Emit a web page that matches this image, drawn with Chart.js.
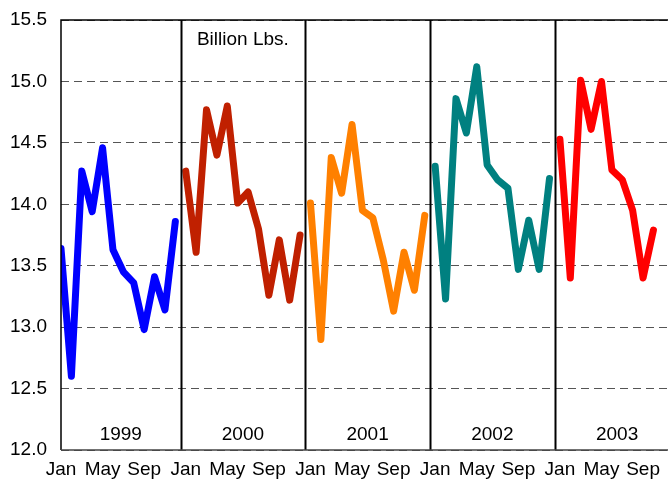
<!DOCTYPE html>
<html>
<head>
<meta charset="utf-8">
<script src="https://cdn.jsdelivr.net/npm/chart.js@4"></script>
<style>
  body { margin: 0; background: #fff; }
  #wrap { width: 668px; height: 481px; }
</style>
</head>
<body>
<div id="wrap"><canvas id="myChart"></canvas></div>
<script>
const years = ['1999', '2000', '2001', '2002', '2003'];
const months = ['Jan', 'Feb', 'Mar', 'Apr', 'May', 'Jun', 'Jul', 'Aug', 'Sep', 'Oct', 'Nov', 'Dec'];
const tickMonths = [0, 4, 8];
const yTicks = [12.0, 12.5, 13.0, 13.5, 14.0, 14.5, 15.0, 15.5];

const v1999 = [13.64, 12.60, 14.27, 13.94, 14.46, 13.63, 13.45, 13.36, 12.98, 13.41, 13.14, 13.86];
const v2000 = [14.27, 13.61, 14.77, 14.40, 14.80, 14.01, 14.10, 13.80, 13.26, 13.71, 13.22, 13.75];
const v2001 = [14.01, 12.90, 14.38, 14.09, 14.65, 13.95, 13.89, 13.55, 13.13, 13.61, 13.30, 13.91];
const v2002 = [14.31, 13.23, 14.86, 14.58, 15.12, 14.32, 14.20, 14.13, 13.47, 13.87, 13.47, 14.21];
const v2003 = [14.53, 13.40, 15.01, 14.61, 15.00, 14.28, 14.20, 13.95, 13.40, 13.79];

const series = [v1999, v2000, v2001, v2002, v2003];
const colors = ['#0000ff', '#c02000', '#ff8000', '#008080', '#ff0000'];

const FONT = '"Liberation Sans", Arial, sans-serif';
Chart.defaults.font.family = FONT;
Chart.defaults.font.size = 19;
Chart.defaults.color = '#000';

// one dataset per year, x = month index from Jan 1999
const datasets = series.map((vals, k) => ({
    label: years[k],
    data: vals.map((v, m) => ({ x: k * 12 + m, y: v })),
    borderColor: colors[k],
    backgroundColor: colors[k],
    borderWidth: 7,
    borderCapStyle: 'round',
    borderJoinStyle: 'round',
    pointRadius: 0,
    tension: 0,
}));

const frame = {
    id: 'frame',
    afterDatasetsDraw(chart) {
        const ctx = chart.ctx;
        const a = chart.chartArea;
        const xs = chart.scales.x;
        ctx.save();
        // year separators
        ctx.strokeStyle = '#000';
        ctx.lineWidth = 2;
        for (let k = 1; k < years.length; k++) {
            const px = Math.round(xs.getPixelForValue(k * 12 - 0.5)) + 0.5;
            ctx.beginPath();
            ctx.moveTo(px, a.top);
            ctx.lineTo(px, a.bottom);
            ctx.stroke();
        }
        // top and left border
        ctx.lineWidth = 1.5;
        ctx.beginPath();
        ctx.moveTo(a.left, a.bottom);
        ctx.lineTo(a.left, a.top);
        ctx.lineTo(a.right, a.top);
        ctx.stroke();
        // bottom axis
        ctx.strokeStyle = '#444';
        ctx.beginPath();
        ctx.moveTo(a.left, a.bottom);
        ctx.lineTo(a.right, a.bottom);
        ctx.stroke();
        // year labels
        ctx.fillStyle = '#000';
        ctx.font = '19px ' + FONT;
        ctx.textAlign = 'center';
        ctx.textBaseline = 'middle';
        years.forEach((y, k) => {
            const l = k === 0 ? a.left : xs.getPixelForValue(k * 12 - 0.5);
            const r = xs.getPixelForValue(k * 12 + 11.5);
            ctx.fillText(y, (l + r) / 2, 435);
        });
        ctx.fillText('Billion Lbs.', (xs.getPixelForValue(11.5) + xs.getPixelForValue(23.5)) / 2, 40);
        ctx.restore();
    }
};

const config = {
    type: 'line',
    data: { datasets: datasets },
    options: {
        responsive: true,
        maintainAspectRatio: false,
        animation: false,
        layout: { padding: { top: 20, right: 0, left: 0, bottom: 0 } },
        plugins: {
            legend: { display: false },
            title: { display: false },
            tooltip: { enabled: false },
        },
        scales: {
            x: {
                type: 'linear',
                min: 0,
                max: 58.4,
                afterFit: (s) => { s.height = 31; s.paddingLeft = 0; s.paddingRight = 0; },
                afterBuildTicks: (s) => {
                    const t = [];
                    years.forEach((y, k) => tickMonths.forEach(m => {
                        if (k * 12 + m <= 58) t.push({ value: k * 12 + m });
                    }));
                    s.ticks = t;
                },
                grid: { display: false, drawTicks: false },
                border: { display: false },
                ticks: {
                    padding: 8,
                    maxRotation: 0,
                    autoSkip: false,
                    callback: (v) => months[v % 12],
                },
            },
            y: {
                min: 12,
                max: 15.5,
                afterFit: (s) => { s.width = 61; s.paddingTop = 0; s.paddingBottom = 0; },
                afterBuildTicks: (s) => { s.ticks = yTicks.map(v => ({ value: v })); },
                grid: { color: '#555', lineWidth: 1, drawTicks: false },
                border: { display: false, dash: [8, 5] },
                ticks: {
                    padding: 14,
                    callback: (v) => v.toFixed(1),
                },
            },
        },
    },
    plugins: [frame],
};

const myChart = new Chart(document.getElementById('myChart'), config);
</script>
</body>
</html>
